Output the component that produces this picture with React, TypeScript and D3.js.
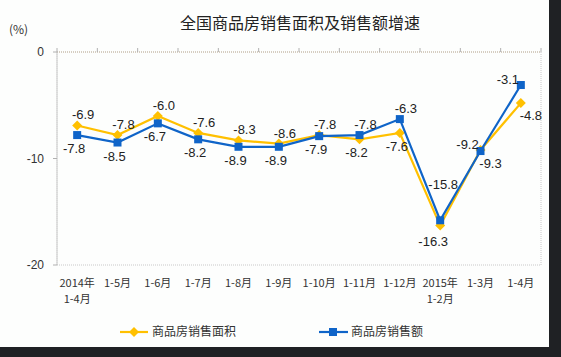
import React from "react";
import * as d3 from "d3";

const categories = ["2014年\n1-4月", "1-5月", "1-6月", "1-7月", "1-8月", "1-9月", "1-10月", "1-11月", "1-12月", "2015年\n1-2月", "1-3月", "1-4月"];
const areaGrowth = [-6.9, -7.8, -6.0, -7.6, -8.3, -8.6, -7.8, -8.2, -7.6, -16.3, -9.2, -4.8];
const salesGrowth = [-7.8, -8.5, -6.7, -8.2, -8.9, -8.9, -7.9, -7.8, -6.3, -15.8, -9.3, -3.1];
const yTicks = [0, -10, -20];
const seriesNames = ["商品房销售面积", "商品房销售额"];
const title = "全国商品房销售面积及销售额增速";

const W = 561, H = 357;
const YELLOW = "#FFC000";
const BLUE = "#0F64C8";
const plot = { left: 57, right: 541, top: 52, bottom: 265 };

export default function App() {
  const x = d3.scaleBand<number>().domain(d3.range(categories.length)).range([plot.left, plot.right]).padding(0);
  const y = d3.scaleLinear().domain([0, -20]).range([plot.top, plot.bottom]);
  const cx = (i: number) => (x(i) as number) + x.bandwidth() / 2;
  const line = d3.line<number>().x((_, i) => cx(i)).y((v) => y(v));
  const labelFont = "'Liberation Sans', Arial, sans-serif";
  const cjk = "'Noto Sans CJK SC', sans-serif";

  const series = [
    { values: areaGrowth, color: YELLOW, marker: "diamond" },
    { values: salesGrowth, color: BLUE, marker: "square" },
  ];

  const marker = (kind: string, px: number, py: number, color: string, key: string) =>
    kind === "diamond" ? (
      <path key={key} d={`M${px},${py - 5}L${px + 5},${py}L${px},${py + 5}L${px - 5},${py}Z`} fill={color} />
    ) : (
      <rect key={key} x={px - 4} y={py - 4} width={8} height={8} fill={color} />
    );

  const boundaries = d3.range(categories.length + 1).map((i) => plot.left + i * x.bandwidth());

  const labelPos = (vals: number[], i: number, above: boolean) => {
    const v = vals[i];
    const prev = i > 0 ? vals[i - 1] : null;
    const next = i < vals.length - 1 ? vals[i + 1] : null;
    const steepRise = prev !== null && v - prev > 3;
    const valley = prev !== null && next !== null && prev - v > 3 && next - v > 3;
    if (above) {
      if (valley) return { dx: 3, dy: -31 };
      if (steepRise) return { dx: -13, dy: -1 };
      return { dx: 6, dy: -6 };
    }
    if (valley) return { dx: -7, dy: 20 };
    if (steepRise) return { dx: 10, dy: 17 };
    return { dx: -3, dy: 18 };
  };

  return (
    <svg width={W} height={H} style={{ position: "absolute", left: 0, top: 0 }}>
      <rect x={0} y={0} width={W} height={H} fill="#1f2124" />
      <rect x={0} y={0} width={549} height={347} fill="#fdfefd" />
      <text x={300} y={29} textAnchor="middle" fontFamily={cjk} fontSize={16} fill="#222">{title}</text>
      <text x={9} y={34} fontFamily={cjk} fontSize={12} fill="#333">(%)</text>

      {/* plot border */}
      <rect x={plot.left} y={plot.top} width={plot.right - plot.left} height={plot.bottom - plot.top}
        fill="none" stroke="#c8c8c8" strokeDasharray="1,1" />
      <line x1={plot.left} x2={plot.right} y1={plot.top} y2={plot.top} stroke="#c9b9a0" strokeDasharray="1,1" />
      {boundaries.map((bx, i) => (
        <line key={"xt" + i} x1={bx} x2={bx} y1={plot.top} y2={plot.top - 4} stroke="#b0b0b0" />
      ))}
      <line x1={plot.left} x2={plot.left} y1={plot.top} y2={plot.bottom} stroke="#b8b8b8" strokeDasharray="1,1" />
      {yTicks.map((t) => (
        <g key={"yt" + t}>
          <line x1={plot.left - 4} x2={plot.left} y1={y(t)} y2={y(t)} stroke="#b0b0b0" />
          <text x={44} y={y(t) + 4} textAnchor="end" fontFamily={labelFont} fontSize={12} fill="#333">{t}</text>
        </g>
      ))}

      {/* x labels */}
      {categories.map((c, i) => {
        const lines = c.split("\n");
        return (
          <text key={"xl" + i} x={cx(i)} y={287} textAnchor="middle" fontFamily={cjk} fontSize={11} fill="#333">
            {lines.map((l, j) => (
              <tspan key={j} x={cx(i)} dy={j === 0 ? 0 : 16}>{l}</tspan>
            ))}
          </text>
        );
      })}

      {/* lines */}
      {series.map((s, si) => (
        <g key={"s" + si}>
          <path d={line(s.values) as string} fill="none" stroke={s.color} strokeWidth={2.2} />
          {s.values.map((v, i) => marker(s.marker, cx(i), y(v), s.color, "m" + si + "-" + i))}
        </g>
      ))}

      {/* labels */}
      {series.map((s, si) =>
        s.values.map((v, i) => {
          const other = series[1 - si].values[i];
          const above = v >= other;
          const { dx, dy } = labelPos(s.values, i, above);
          return (
            <text key={"lb" + si + "-" + i} x={cx(i) + dx} y={y(v) + dy}
              textAnchor="middle" fontFamily={labelFont} fontSize={13} fill="#222">
              {v.toFixed(1)}
            </text>
          );
        })
      )}

      {/* legend */}
      <line x1={120} x2={148} y1={332} y2={332} stroke={YELLOW} strokeWidth={2.2} />
      {marker("diamond", 134, 332, YELLOW, "lg1")}
      <text x={152} y={336} fontFamily={cjk} fontSize={12} fill="#333">{seriesNames[0]}</text>
      <line x1={319} x2={348} y1={332} y2={332} stroke={BLUE} strokeWidth={2.2} />
      {marker("square", 333, 332, BLUE, "lg2")}
      <text x={351} y={336} fontFamily={cjk} fontSize={12} fill="#333">{seriesNames[1]}</text>
    </svg>
  );
}
